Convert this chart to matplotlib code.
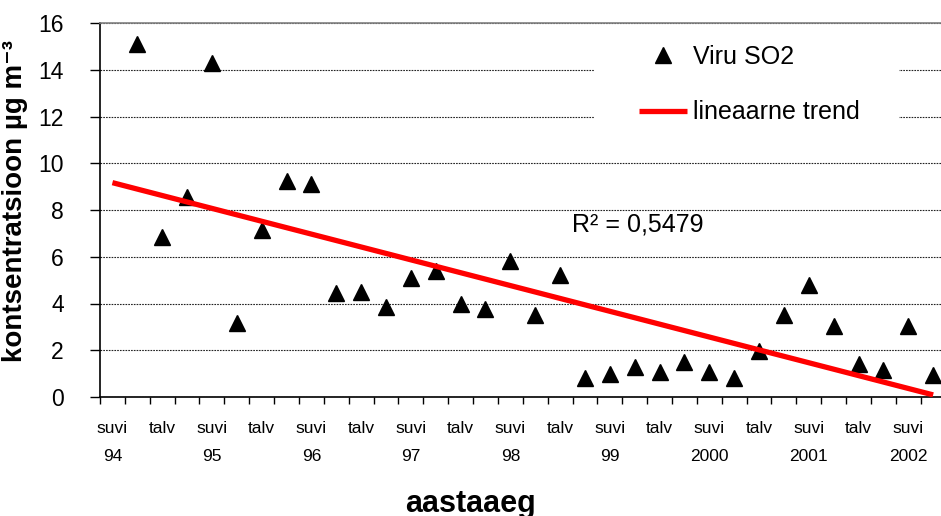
import numpy as np
import matplotlib
matplotlib.use("Agg")
import matplotlib.pyplot as plt
from matplotlib.patches import Rectangle

plt.rcParams['font.family'] = ['Liberation Sans', 'DejaVu Sans']

# SO2 values per period (first period has no measurement)
so2 = [np.nan, 15.1, 6.85, 8.55, 14.3, 3.15, 7.15, 9.25, 9.1, 4.45, 4.5,
       3.85, 5.1, 5.4, 4.0, 3.75, 5.8, 3.5, 5.2, 0.8, 1.0, 1.3, 1.05,
       1.5, 1.05, 0.8, 1.95, 3.5, 4.8, 3.05, 1.4, 1.15, 3.05, 0.95]
trend_start = 9.17
trend_end = 0.09
seasons = ['suvi', 'talv']
years = ['94', '95', '96', '97', '98', '99', '2000', '2001', '2002']
r2_text = 'R² = 0,5479'

n = len(so2)
x = np.arange(n)

fig = plt.figure(figsize=(9.41, 5.16), dpi=100)
ax = fig.add_axes([100/941, 119/516, 34*24.87/941, 374/516])
ax.set_axisbelow(True)

# white box behind legend
ax.add_patch(Rectangle((594/941, (516-145)/516), 305/941, 115/516,
                       transform=fig.transFigure, facecolor='white',
                       edgecolor='none', zorder=1))

ax.plot(x, so2, linestyle='none', marker='^', color='black', ms=11.5,
        label='Viru SO2', zorder=3)
ax.plot([x[0], x[-1]], [trend_start, trend_end], color='#ff0000', lw=3.8,
        label='lineaarne trend', zorder=4, solid_capstyle='butt')

ax.set_xlim(-0.5, n - 0.5)
ax.set_ylim(0, 16)
ax.set_yticks(np.arange(0, 17, 2))
ax.grid(axis='y', color='#222222', lw=0.8, ls=(0, (1.5, 1)))

ax.set_xticks(np.arange(-0.5, n, 1))
ax.set_xticklabels([])
lbls = []
for i in range(0, n - 1, 2):
    s = seasons[(i // 2) % 2]
    if i % 4 == 0:
        s = s + '\n' + years[i // 4]
    lbls.append(s)
ax.set_xticks(np.arange(0, n - 1, 2), minor=True)
ax.set_xticklabels(lbls, minor=True, fontsize=12.5)
for t in ax.get_xticklabels(minor=True):
    t.set_linespacing(2.15)
ax.tick_params(axis='x', which='minor', length=0, pad=17)
ax.tick_params(axis='x', which='major', length=5, width=1, direction='out')
ax.tick_params(axis='y', length=7, width=1, direction='out', pad=19,
               labelsize=16.5)

for s in ['left', 'bottom']:
    ax.spines[s].set_linewidth(1.2)
ax.spines['top'].set_color('#808080')
ax.spines['top'].set_linewidth(1.2)
ax.spines['right'].set_visible(False)

ax.text(18.48, 7.06, r2_text, fontsize=18, va='baseline', ha='left')

ax.legend(loc='upper left', bbox_to_anchor=(639/941, (516-45)/516),
          bbox_transform=fig.transFigure, frameon=False, fontsize=18,
          handlelength=1.9, handletextpad=0.25, labelspacing=1.25,
          borderpad=0, borderaxespad=0, numpoints=1)

fig.text(15/941, (516-201)/516, 'kontsentratsioon µg m⁻³',
         rotation=90, ha='center', va='center', fontsize=20,
         fontweight='bold')
fig.text(470/941, 4/516, 'aastaaeg', ha='center', va='baseline',
         fontsize=22, fontweight='bold')

fig.savefig('out.png', dpi=100)
